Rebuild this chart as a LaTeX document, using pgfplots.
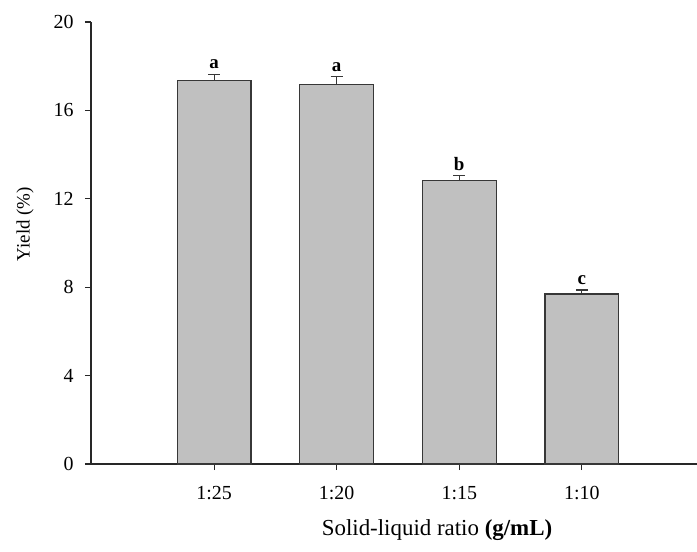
\documentclass[border=0pt]{standalone}
\usepackage{fontspec}
\setmainfont{Liberation Serif}
\usepackage{pgfplots}
\usepackage{pgfplotstable}
\pgfplotsset{compat=1.18}
\definecolor{barfill}{RGB}{192,192,192}
\definecolor{baredge}{RGB}{55,55,55}
\definecolor{axcol}{RGB}{40,40,40}
\pgfplotstableread{
x y err label
0 17.34 0.30 a
1 17.18 0.34 a
2 12.82 0.23 b
3 7.69 0.18 c
}\datatable
\begin{document}
\begin{tikzpicture}
\useasboundingbox (-91bp,-88bp) rectangle (606bp,464bp);
\begin{axis}[
  at={(0,0)}, anchor=south west,
  scale only axis, width=606bp, height=442bp,
  xmin=-1.005, xmax=3.94, ymin=0, ymax=20,
  axis x line=bottom, axis y line=left,
  axis line style={-, line width=1.2bp, color=axcol},
  xtick={0,1,2,3}, xticklabels={1:25,1:20,1:15,1:10},
  ytick={0,4,...,20},
  tick align=outside, major tick length=6bp,
  tick style={line width=1.2bp, color=axcol},
  /pgf/number format/assume math mode=true,
  ticklabel style={font=\fontsize{20}{24}\selectfont},
  xticklabel style={yshift=-13bp},
  yticklabel style={xshift=-8bp},
  xlabel={Solid-liquid ratio \textbf{(g/mL)}},
  ylabel={Yield (\%)},
  xlabel style={font=\fontsize{23}{27}\selectfont, at={(axis description cs:0.571,-0.149)}, anchor=center},
  ylabel style={font=\fontsize{19}{23}\selectfont, at={(axis description cs:-0.109,0.543)}, anchor=center},
]
\addplot[ybar, bar width=0.603, fill=barfill, draw=baredge, line width=1.4bp,
  error bars/.cd, y dir=plus, y explicit,
  error bar style={line width=1.2bp, color=baredge},
  error mark options={line width=1.2bp, color=baredge, mark size=6bp, rotate=90}]
  table[x=x, y=y, y error=err] {\datatable};
\addplot[draw=none, mark=none, nodes near coords, point meta=explicit symbolic,
  nodes near coords style={font=\bfseries\fontsize{19}{21}\selectfont, anchor=south, inner sep=0pt, yshift=5bp}]
  table[x=x, y expr=\thisrow{y}+\thisrow{err}, meta=label] {\datatable};
\end{axis}
\end{tikzpicture}
\end{document}
